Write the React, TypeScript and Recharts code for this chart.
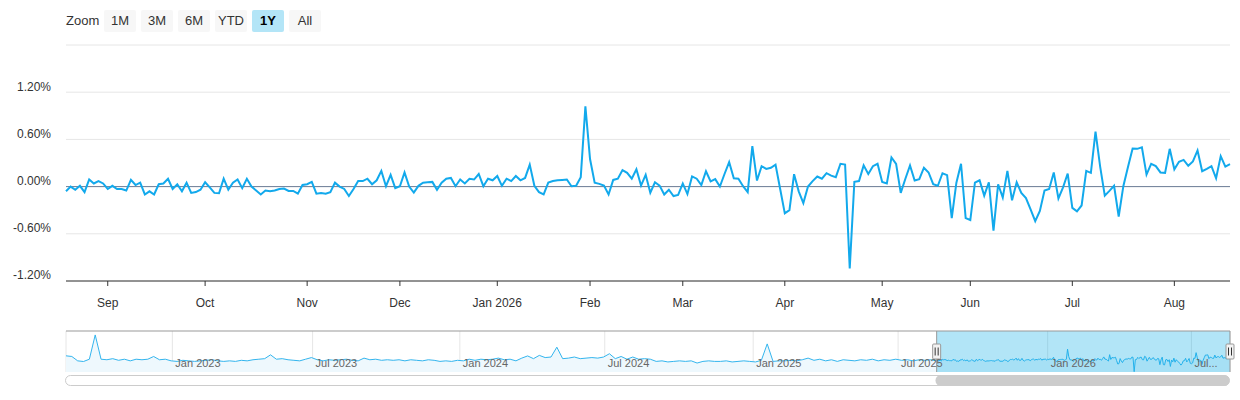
import React from 'react';
import {
  LineChart,
  Line,
  XAxis,
  YAxis,
  CartesianGrid,
  ReferenceLine,
  ComposedChart,
  Area,
  ReferenceArea,
} from 'recharts';

const FONT = '"Liberation Sans", Arial, Helvetica, sans-serif';

// Daily % change, last year (trading days)
const dailyValues: number[] = [
  -0.06, 0, -0.04, 0.01, -0.07, 0.09, 0.04, 0.07, 0.04, -0.03,
  0.01, -0.03, -0.03, -0.05, 0.085, 0.02, 0.05, -0.1, -0.06, -0.1,
  0.03, 0.04, 0.1, -0.03, 0.03, -0.06, 0.05, -0.08, -0.07, -0.04,
  0.055, -0.01, -0.08, -0.085, 0.1, -0.04, 0.05, 0.09, -0.02, 0.1,
  0, -0.05, -0.1, -0.05, -0.06, -0.05, -0.03, -0.025, -0.055, -0.055,
  -0.09,
  0.02, 0.03, 0.06, -0.09, -0.08, -0.09, -0.07, 0.05, 0, -0.03,
  -0.12, -0.03, 0.07, 0.07, 0.1, 0.03, 0.08, 0.2, 0.005, 0.15,
  -0.02, 0.005, 0.18, 0, -0.075, 0.01, 0.05, 0.055, 0.06, -0.04,
  0.05, 0.1, 0.11, 0.005, 0.09, 0.04, 0.1, 0.09, 0.16, 0.005,
  0.1, 0.08, 0.135, 0.01, 0.1, 0.07, 0.135, 0.08, 0.11, 0.28,
  0.01, -0.07, -0.1, 0.05, 0.07, 0.08, 0.085, 0.09, 0.005, 0.01,
  0.12, 1.02, 0.35, 0.05, 0.035, 0.013, -0.1, 0.085, 0.1, 0.21,
  0.175, 0.1, 0.22, 0.013, 0.15, -0.077, 0.055, 0.013, -0.1, -0.04,
  -0.12, -0.105, 0.04, -0.095, 0.13, 0.1, 0.02, 0.195, 0.065, 0.095,
  0, 0.16, 0.31, 0.105, 0.1, 0.005, -0.07, 0.515, 0.077, 0.26,
  0.225,
  0.24, 0.28, -0.03, -0.34, -0.3, 0.157, -0.06, -0.21, 0, 0.07,
  0.128, 0.1, 0.17, 0.14, 0.12, 0.29, 0.28, -1.04, 0.06, 0.07,
  0.27, 0.16, 0.26, 0.29, 0.06, 0.04, 0.37, 0.29, -0.08, 0.1,
  0.27, 0.077, 0.094, 0.24, 0.18, 0.03, 0.01, 0.17, 0.145, -0.4,
  0.05, 0.29, -0.4, -0.425, 0.05, 0.08, -0.115, 0.055, -0.56, 0.03,
  -0.14,
  0.2, -0.175, 0.055, -0.08, -0.145, -0.29, -0.44, -0.31, -0.05, -0.03,
  0.18, -0.15, -0.01, 0.166, -0.27, -0.315, -0.24, 0.2, 0.175, 0.7,
  0.255, -0.115, -0.055, 0.01, -0.38, 0.005, 0.25, 0.485, 0.48, 0.5,
  0.153, 0.29, 0.26, 0.18, 0.175, 0.48, 0.22, 0.315, 0.34, 0.264,
  0.32, 0.46, 0.196, 0.225, 0.26, 0.106, 0.387, 0.255, 0.285,
];

const monthTickIndex = [9, 30, 52, 72, 93, 113, 133, 155, 176, 195, 217, 239];
const monthTickLabels = ['Sep', 'Oct', 'Nov', 'Dec', 'Jan 2026', 'Feb', 'Mar', 'Apr', 'May', 'Jun', 'Jul', 'Aug'];
const yTicks = [-1.2, -0.6, 0, 0.6, 1.2, 1.8];
const zoomButtons = ['1M', '3M', '6M', 'YTD', '1Y', 'All'];
const selectedButton = '1Y';

// Navigator history before the selected year, roughly one reading per week (5 trading days)
const navHistory: number[] = [
  0.41, 0.35, -0.05, -0.11, 0.1, 2.32, 0.1, 0.05, 0.15, 0.0,
  0.1, -0.05, 0.1, 0.05, 0.1, 0.35, 0.05, 0.1, -0.05, -0.1,
  0.0, -0.05, -0.1, -0.05, 0.0, 0.05, -0.05, -0.1, -0.05, -0.1,
  0.0, -0.05, 0.05, 0.1, 0.15, 0.5, 0.1, 0.15, 0.05, 0.0,
  -0.05, 0.1, 0.25, 0.05, -0.05, 0.05, 0.0, 0.05, 0.1, 0.0,
  -0.05, 0.2, 0.05, 0.1, 0.0, 0.05, 0.0, 0.05, -0.05, 0.05,
  0.0, -0.05, 0.05, 0.0, -0.1, -0.05, -0.1, 0.0, -0.05, 0.1,
  0.0, 0.1, 0.05, 0.1, 0.2, 0.05, 0.1, -0.05, 0.2, 0.4,
  0.15, 0.45, 0.25, 0.3, 1.2, 0.15, 0.2, 0.3, 0.15, 0.2,
  0.25, 0.2, 0.3, 0.6, 0.15, 0.35, 0.1, 0.3, 0.1, 0.15,
  0.1, -0.1, -0.05, -0.15, -0.1, -0.05, -0.1, -0.05, -0.25, -0.1,
  -0.05, -0.1, -0.1, -0.05, -0.15, -0.1, -0.05, -0.1, -0.15, 0.0,
  1.5, -0.1, -0.05, -0.05, 0.0, -0.05, 0.05, 0.2, 0.0, 0.1,
  -0.05, 0.05, -0.1, 0.05, 0.0, -0.05, 0.05, 0.0, 0.1, -0.05,
  0.05, 0.0, 0.1, 0.0, 0.05, -0.05, 0.05, 0.0, 0.05,
];
const navHistoryStep = 5;
const navSelectedStart = 745;
const navEnd = navSelectedStart + dailyValues.length - 1;
const navTickIndex = [91, 211, 337, 461, 588, 712, 840, 963];
const navTickLabels = ['Jan 2023', 'Jul 2023', 'Jan 2024', 'Jul 2024', 'Jan 2025', 'Jul 2025', 'Jan 2026', 'Jul...'];
const navDomain: [number, number] = [-1.07, 2.68];

const mainData = dailyValues.map((v, i) => ({ i, v }));
const navData = [
  ...navHistory.map((v, k) => ({ t: k * navHistoryStep, v })),
  ...dailyValues.map((v, i) => ({ t: navSelectedStart + i, v })),
];

const LINE_COLOR = '#12a9ec';

const XTick = (props: any) => {
  const { x, y, payload } = props;
  const idx = monthTickIndex.indexOf(payload.value);
  return (
    <text x={x} y={y} dy={19} textAnchor="middle" fill="#333333" fontSize={12} fontFamily={FONT}>
      {idx >= 0 ? monthTickLabels[idx] : ''}
    </text>
  );
};

const YTick = (props: any) => {
  const { x, y, payload } = props;
  if (payload.value >= 1.8) return <g />;
  const label = (Math.abs(payload.value) < 1e-9 ? 0 : payload.value).toFixed(2) + '%';
  return (
    <text x={x} y={y} dy={-1.6} textAnchor="end" fill="#333333" fontSize={12} fontFamily={FONT}>
      {label}
    </text>
  );
};

const NavTick = (props: any) => {
  const { x, y, payload } = props;
  const idx = navTickIndex.indexOf(payload.value);
  return (
    <text x={x + 3} y={y} dy={-5} textAnchor="start" fill="#666666" fontSize={11} fontFamily={FONT}>
      {idx >= 0 ? navTickLabels[idx] : ''}
    </text>
  );
};

const NavMask = (props: any) => {
  const { x, y, width, height } = props;
  const hy = y + height / 2;
  return (
    <g>
      <rect x={x} y={y} width={width} height={height} fill="rgb(0,170,230)" fillOpacity={0.3} />
      <line x1={x} x2={x} y1={y} y2={y + height} stroke="#999999" strokeWidth={1} />
      <line x1={x + width} x2={x + width} y1={y} y2={y + height} stroke="#999999" strokeWidth={1} />
      {[x, x + width].map((hx: number) => (
        <g key={hx}>
          <rect x={hx - 4} y={hy - 7.5} width={8} height={15} rx={1} fill="#f2f2f2" stroke="#999999" strokeWidth={1} />
          <line x1={hx - 1.5} x2={hx - 1.5} y1={hy - 4} y2={hy + 4} stroke="#333333" strokeWidth={1} />
          <line x1={hx + 1.5} x2={hx + 1.5} y1={hy - 4} y2={hy + 4} stroke="#333333" strokeWidth={1} />
        </g>
      ))}
    </g>
  );
};

export default function App() {
  return (
    <div
      style={{
        position: 'absolute',
        left: 0,
        top: 0,
        width: 1240,
        height: 400,
        background: '#ffffff',
        fontFamily: FONT,
        overflow: 'hidden',
      }}
    >
      {/* Range selector */}
      <div style={{ position: 'absolute', left: 66, top: 10, height: 22, lineHeight: '22px', fontSize: 13, color: '#333333' }}>
        Zoom
      </div>
      {zoomButtons.map((b, k) => (
        <div
          key={b}
          style={{
            position: 'absolute',
            left: 104 + k * 37,
            top: 10,
            width: 32,
            height: 22,
            lineHeight: '22px',
            textAlign: 'center',
            fontSize: 13,
            borderRadius: 2,
            background: b === selectedButton ? '#b3e5f7' : '#f7f7f7',
            color: b === selectedButton ? '#000000' : '#333333',
            fontWeight: b === selectedButton ? 'bold' : 'normal',
          }}
        >
          {b}
        </div>
      ))}

      {/* Main chart */}
      <div style={{ position: 'absolute', left: 0, top: 0 }}>
        <LineChart width={1240} height={320} data={mainData} margin={{ top: 45, right: 10, bottom: 0, left: 0 }}>
          <CartesianGrid vertical={false} stroke="#e6e6e6" />
          <XAxis
            dataKey="i"
            type="number"
            domain={[0, dailyValues.length - 1]}
            ticks={monthTickIndex}
            interval={0}
            height={39}
            axisLine={{ stroke: '#333333' }}
            tickLine={{ stroke: '#333333' }}
            tickSize={5}
            tickMargin={2}
            tick={XTick}
          />
          <YAxis
            type="number"
            domain={[-1.2, 1.8]}
            ticks={yTicks}
            interval={0}
            width={66}
            axisLine={false}
            tickLine={false}
            tickSize={0}
            tickMargin={15}
            tick={YTick}
          />
          <ReferenceLine y={0} stroke="#6e7e98" strokeWidth={1} />
          <Line
            type="linear"
            dataKey="v"
            stroke={LINE_COLOR}
            strokeWidth={2}
            dot={false}
            activeDot={false}
            isAnimationActive={false}
          />
        </LineChart>
      </div>

      {/* Navigator */}
      <div style={{ position: 'absolute', left: 0, top: 320 }}>
        <ComposedChart width={1240} height={72} data={navData} margin={{ top: 11, right: 10, bottom: 0, left: 66 }}>
          <CartesianGrid horizontal={false} stroke="#e6e6e6" />
          <XAxis
            dataKey="t"
            type="number"
            domain={[0, navEnd]}
            ticks={navTickIndex}
            interval={0}
            height={20}
            axisLine={false}
            tickLine={false}
            tickSize={0}
            tickMargin={0}
            tick={NavTick}
          />
          <YAxis hide type="number" domain={navDomain} allowDataOverflow />
          <Area
            type="linear"
            dataKey="v"
            stroke="#33b5ee"
            strokeWidth={1}
            fill="#eef8fd"
            fillOpacity={1}
            baseValue={navDomain[0]}
            dot={false}
            activeDot={false}
            isAnimationActive={false}
          />
          <ReferenceArea x1={navSelectedStart} x2={navEnd} shape={NavMask} ifOverflow="visible" />
          <ReferenceLine y={navDomain[1]} stroke="#999999" strokeWidth={1} />
        </ComposedChart>
      </div>

      {/* Scrollbar */}
      <svg style={{ position: 'absolute', left: 0, top: 0 }} width={1240} height={400}>
        <rect x={65.5} y={375.5} width={1164} height={10} rx={5} ry={5} fill="#ffffff" stroke="#cccccc" strokeWidth={1} />
        <rect x={935.5} y={375} width={294} height={11} rx={5.5} ry={5.5} fill="#cccccc" />
      </svg>
    </div>
  );
}
